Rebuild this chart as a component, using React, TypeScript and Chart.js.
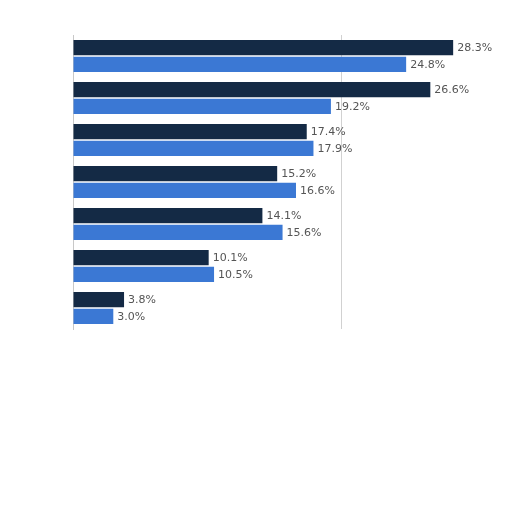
import React, { useEffect, useRef } from "react";
import { Chart, registerables } from "chart.js";

Chart.register(...registerables);

const categories = ["1", "2", "3", "4", "5", "6", "7"];
const seriesDark = [28.3, 26.6, 17.4, 15.2, 14.1, 10.1, 3.8];
const seriesBlue = [24.8, 19.2, 17.9, 16.6, 15.6, 10.5, 3.0];

const labelPlugin = {
  id: "valueLabels",
  afterDatasetsDraw(chart: any) {
    const ctx = chart.ctx;
    ctx.save();
    ctx.font = "11px 'DejaVu Sans', sans-serif";
    ctx.fillStyle = "#555555";
    ctx.textBaseline = "middle";
    ctx.textAlign = "left";
    chart.data.datasets.forEach((ds: any, di: number) => {
      const meta = chart.getDatasetMeta(di);
      meta.data.forEach((el: any, i: number) => {
        const v = ds.data[i];
        ctx.fillText(v.toFixed(1) + "%", el.x + 4, el.y + 1);
      });
    });
    ctx.restore();
  },
};

export default function App() {
  const ref = useRef<HTMLCanvasElement>(null);
  useEffect(() => {
    if (!ref.current) return;
    const chart = new Chart(ref.current, {
      type: "bar",
      data: {
        labels: categories,
        datasets: [
          {
            data: seriesDark,
            backgroundColor: "#142a45",
            categoryPercentage: 0.8,
            barPercentage: 0.9,
          },
          {
            data: seriesBlue,
            backgroundColor: "#3b78d4",
            categoryPercentage: 0.8,
            barPercentage: 0.9,
          },
        ],
      },
      options: {
        indexAxis: "y",
        animation: false,
        responsive: false,
        maintainAspectRatio: false,
        layout: { padding: { left: 73, top: 35, right: 36, bottom: 183 } },
        plugins: {
          legend: { display: false },
          tooltip: { enabled: false },
        },
        scales: {
          x: {
            min: 0,
            max: 30,
            ticks: { display: false, stepSize: 10 },
            grid: {
              drawTicks: false,
              color: (c: any) =>
                c.tick && c.tick.value === 20 ? "rgba(190,190,190,0.7)" : "rgba(0,0,0,0)",
            },
            border: { display: false },
          },
          y: {
            ticks: { display: false },
            grid: { display: false, drawTicks: false },
            border: { display: true, color: "#c8c8c8", width: 1 },
          },
        },
      },
      plugins: [labelPlugin],
    });
    return () => chart.destroy();
  }, []);
  return (
    <div style={{ position: "fixed", left: 0, top: 0, width: 512, height: 512, background: "#fff" }}>
      <canvas ref={ref} width={512} height={512} style={{ width: 512, height: 512 }} />
    </div>
  );
}
